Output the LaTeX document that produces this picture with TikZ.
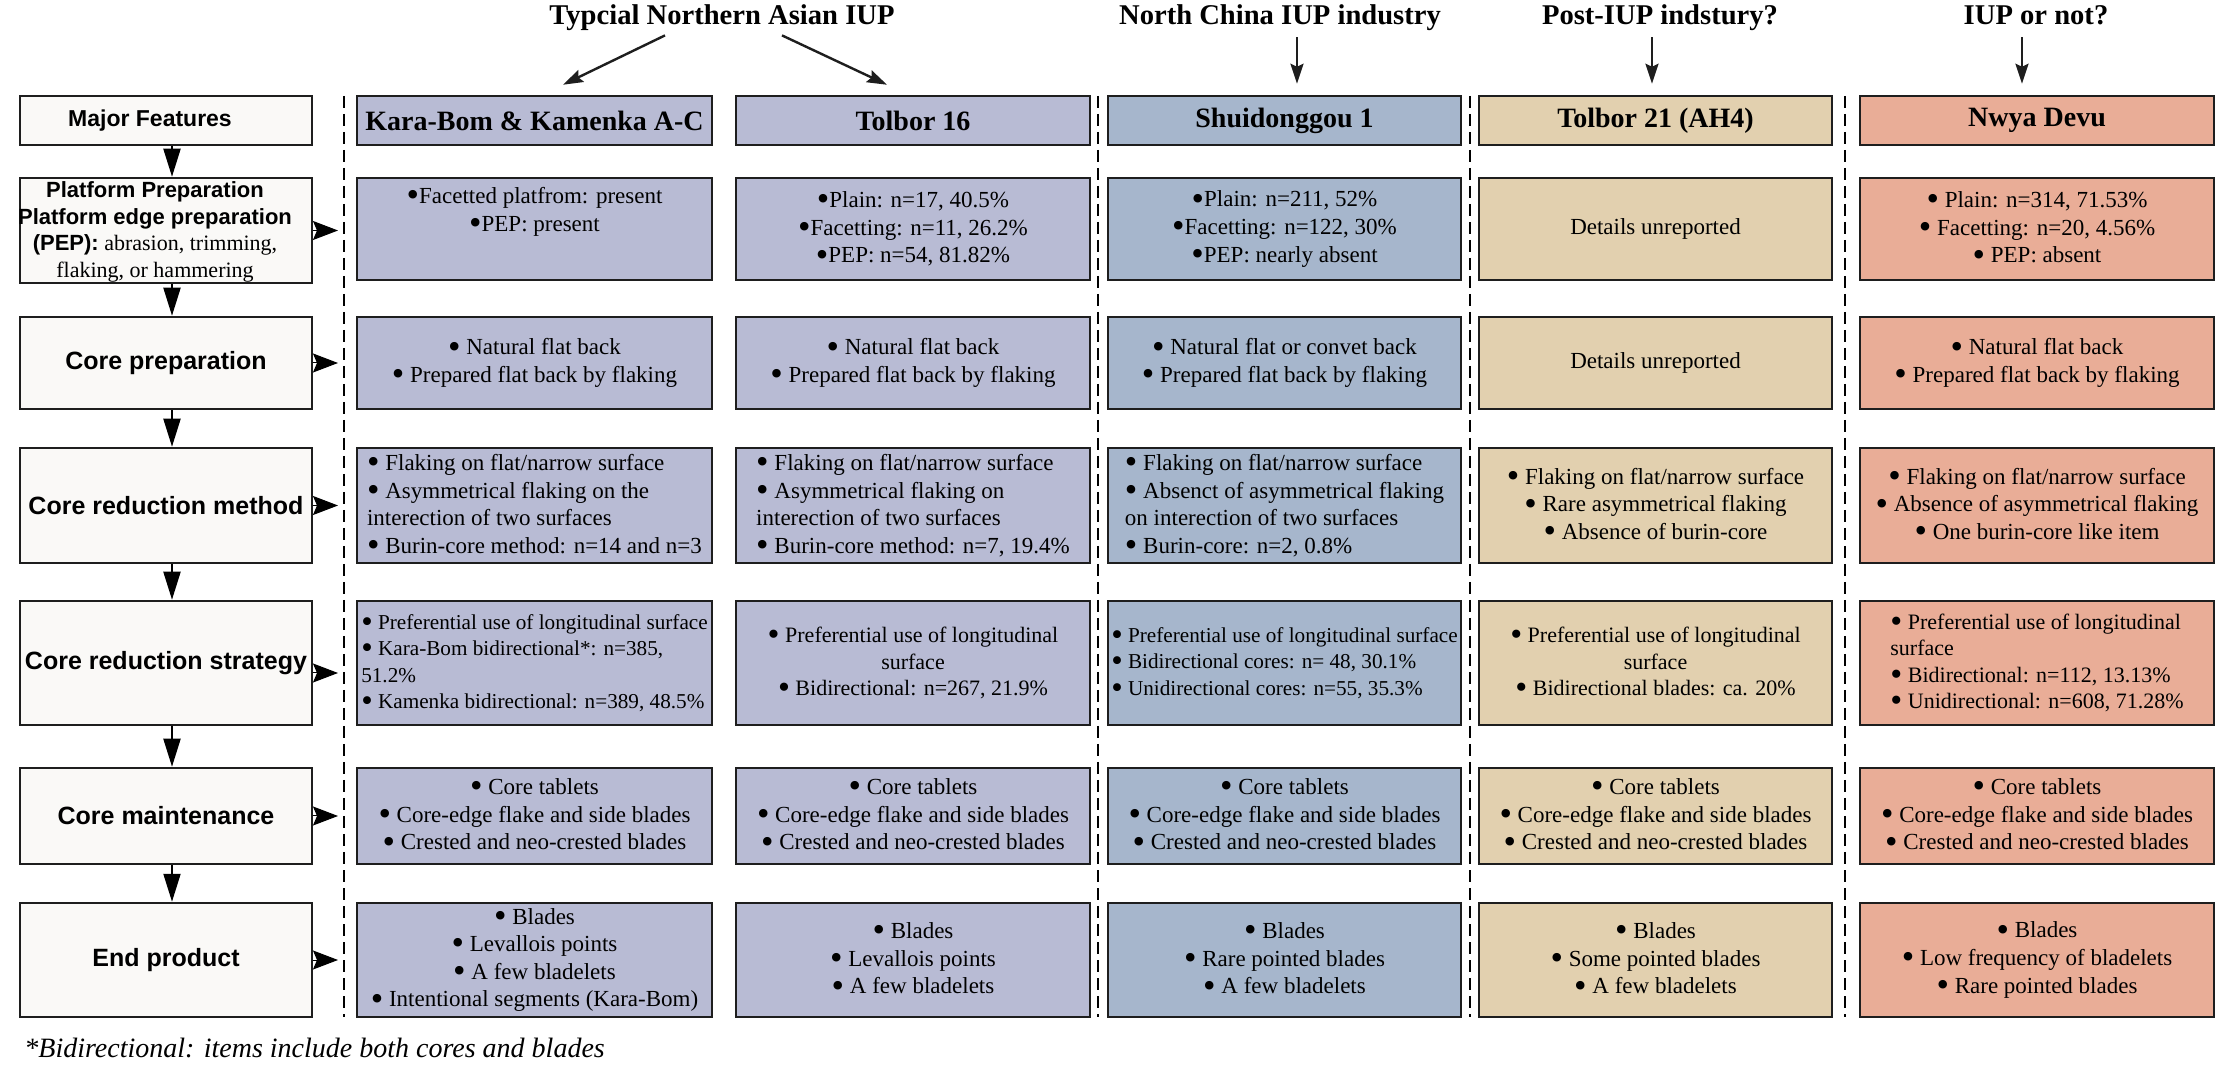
\documentclass[tikz,border=0pt]{standalone}
\usepackage{fontspec}
\setmainfont{Liberation Serif}
\setsansfont{Liberation Sans}
\usepackage{graphicx}
\usetikzlibrary{arrows.meta}
\definecolor{leftfill}{RGB}{250,249,247}
\definecolor{kbfill}{RGB}{184,187,212}
\definecolor{sdfill}{RGB}{166,182,204}
\definecolor{tafill}{RGB}{226,208,175}
\definecolor{nwfill}{RGB}{233,173,151}
\definecolor{edgec}{RGB}{30,30,30}
\newcommand\bul{\raisebox{-0.14em}{\scalebox{1.55}{\textbullet}}}
\newcommand\bp{\bul\ }
\newcommand\bodyfont{\fontsize{11.5pt}{13.8pt}\selectfont}
\newcommand\stratfont{\fontsize{11pt}{13.2pt}\selectfont}
\newcommand\tightfont{\fontsize{10.6pt}{13.2pt}\selectfont}
\newcommand\headfont{\fontsize{14pt}{16pt}\selectfont\bfseries}
\newcommand\titlefont{\fontsize{14.3pt}{16pt}\selectfont\bfseries}
\newcommand\leftfont{\fontsize{12.5pt}{15pt}\selectfont\sffamily\bfseries}
\tikzset{
  cell/.style={draw=edgec, line width=1.25pt, inner sep=0pt, align=center, font=\bodyfont},
  lcol/.style={cell, fill=leftfill, minimum width=146pt, font=\leftfont},
  kcol/.style={cell, fill=kbfill, minimum width=177.5pt},
  tcol/.style={cell, fill=kbfill, minimum width=177pt},
  scol/.style={cell, fill=sdfill, minimum width=176.5pt},
  acol/.style={cell, fill=tafill, minimum width=176.5pt},
  ncol/.style={cell, fill=nwfill, minimum width=177pt},
  hrow/.style={minimum height=24.5pt, font=\headfont},
  rowa/.style={minimum height=51pt},
  rowb/.style={minimum height=46pt},
  rowc/.style={minimum height=57.5pt},
  rowd/.style={minimum height=62pt, font=\stratfont},
  rowe/.style={minimum height=48pt},
  rowf/.style={minimum height=57pt},
  ttl/.style={font=\titlefont, inner sep=0pt, text depth=4pt},
  tarr/.style={draw=edgec, line width=1.2pt, -{Stealth[length=10pt, width=6.5pt, inset=1.5pt]}},
  darr/.style={draw=black, line width=1pt, -{Triangle[length=14pt, width=8.5pt]}},
  rarr/.style={draw=black, line width=0.5pt, -{Stealth[length=12.5pt, width=9.5pt, inset=2pt]}},
  sepline/.style={draw=black, line width=1pt, dash pattern=on 6pt off 3pt},
}
\begin{document}
\begin{tikzpicture}[x=0.5pt, y=-0.5pt]
\useasboundingbox (0,0) rectangle (2233,1068);
\fill[white] (0,0) rectangle (2233,1068);

% titles
\node[ttl, anchor=base] (t1) at (722,25) {Typcial Northern Asian IUP};
\node[ttl, anchor=base] (t2) at (1280,25) {North China IUP industry};
\node[ttl, anchor=base] (t3) at (1660,25) {Post-IUP indstury?};
\node[ttl, anchor=base] (t4) at (2036,25) {IUP or not?};

% separators
\draw[sepline] (344,96) -- (344,1017);
\draw[sepline] (1098,96) -- (1098,1017);
\draw[sepline] (1470,96) -- (1470,1017);
\draw[sepline] (1845,96) -- (1845,1017);

% header row
\node[lcol, minimum height=24.5pt] (lmf) at (166,120.5) {};
\node[inner sep=0pt, font=\fontsize{11.5pt}{14pt}\selectfont\sffamily\bfseries] (lmft) at (150,121) {Major Features};
\node[kcol,hrow] (kb0) at (534.5,120.5) {Kara-Bom \& Kamenka A-C};
\node[tcol,hrow] (tb0) at (913,120.5) {Tolbor 16};
\node[scol,hrow] (sd0) at (1284.5,120.5) {Shuidonggou 1};
\node[acol,hrow] (ta0) at (1655.5,120.5) {Tolbor 21 (AH4)};
\node[ncol,hrow] (nw0) at (2037,120.5) {\raisebox{2.5pt}{Nwya Devu}};

% row 1
\node[lcol, minimum height=52.5pt] (l1) at (166,230.5) {};
\node[inner sep=0pt, align=center, font=\fontsize{11pt}{13.4pt}\selectfont] (l1t) at (155,232)
  {{\sffamily\bfseries Platform Preparation}\\{\sffamily\bfseries Platform edge preparation}\\{\sffamily\bfseries (PEP):} abrasion, trimming,\\flaking, or hammering};
\node[kcol,rowa] (kb1) at (534.5,229) {\bul Facetted platfrom: present\\\bul PEP: present\\[6pt]};
\node[tcol,rowa] (tb1) at (913,229) {\bul Plain: n=17, 40.5\%\\\bul Facetting: n=11, 26.2\%\\\bul PEP: n=54, 81.82\%};
\node[scol,rowa] (sd1) at (1284.5,229) {\bul Plain: n=211, 52\%\\\bul Facetting: n=122, 30\%\\\bul PEP: nearly absent};
\node[acol,rowa] (ta1) at (1655.5,229) {Details unreported};
\node[ncol,rowa] (nw1) at (2037,229) {\bp Plain: n=314, 71.53\%\\\bp Facetting: n=20, 4.56\%\\\bp PEP: absent};

% row 2
\node[lcol,rowb] (l2) at (166,363) {Core preparation};
\node[kcol,rowb] (kb2) at (534.5,363) {\bp Natural flat back\\\bp Prepared flat back by flaking};
\node[tcol,rowb] (tb2) at (913,363) {\bp Natural flat back\\\bp Prepared flat back by flaking};
\node[scol,rowb] (sd2) at (1284.5,363) {\bp Natural flat or convet back\\\bp Prepared flat back by flaking};
\node[acol,rowb] (ta2) at (1655.5,363) {Details unreported};
\node[ncol,rowb] (nw2) at (2037,363) {\bp Natural flat back\\\bp Prepared flat back by flaking};

% row 3
\node[lcol,rowc] (l3) at (166,505.5) {Core reduction method};
\node[kcol,rowc,align=left] (kb3) at (534.5,505.5) {\bp Flaking on flat/narrow surface\\\bp Asymmetrical flaking on the\\interection of two surfaces\\\bp Burin-core method: n=14 and n=3};
\node[tcol,rowc,align=left] (tb3) at (913,505.5) {\bp Flaking on flat/narrow surface\\\bp Asymmetrical flaking on\\interection of two surfaces\\\bp Burin-core method: n=7, 19.4\%};
\node[scol,rowc,align=left] (sd3) at (1284.5,505.5) {\bp Flaking on flat/narrow surface\\\bp Absenct of asymmetrical flaking\\on interection of two surfaces\\\bp Burin-core: n=2, 0.8\%};
\node[acol,rowc] (ta3) at (1655.5,505.5) {\bp Flaking on flat/narrow surface\\\bp Rare asymmetrical flaking\\\bp Absence of burin-core};
\node[ncol,rowc] (nw3) at (2037,505.5) {\bp Flaking on flat/narrow surface\\\bp Absence of asymmetrical flaking\\\bp One burin-core like item};

% row 4
\node[lcol,minimum height=62pt] (l4) at (166,663) {Core reduction strategy};
\node[kcol,rowd,align=left,font=\tightfont] (kb4) at (534.5,663) {\bp Preferential use of longitudinal surface\\\bp Kara-Bom bidirectional*: n=385,\\51.2\%\\\bp Kamenka bidirectional: n=389, 48.5\%};
\node[tcol,rowd] (tb4) at (913,663) {\bp Preferential use of longitudinal\\surface\\\bp Bidirectional: n=267, 21.9\%};
\node[scol,rowd,align=left,font=\tightfont] (sd4) at (1284.5,663) {\bp Preferential use of longitudinal surface\\\bp Bidirectional cores: n= 48, 30.1\%\\\bp Unidirectional cores: n=55, 35.3\%};
\node[acol,rowd] (ta4) at (1655.5,663) {\bp Preferential use of longitudinal\\surface\\\bp Bidirectional blades: ca. 20\%};
\node[ncol,rowd,align=left] (nw4) at (2037,663) {\bp Preferential use of longitudinal\\surface\\\bp Bidirectional: n=112, 13.13\%\\\bp Unidirectional: n=608, 71.28\%};

% row 5
\node[lcol,rowe] (l5) at (166,816) {Core maintenance};
\node[kcol,rowe] (kb5) at (534.5,816) {\bp Core tablets\\\bp Core-edge flake and side blades\\\bp Crested and neo-crested blades};
\node[tcol,rowe] (tb5) at (913,816) {\bp Core tablets\\\bp Core-edge flake and side blades\\\bp Crested and neo-crested blades};
\node[scol,rowe] (sd5) at (1284.5,816) {\bp Core tablets\\\bp Core-edge flake and side blades\\\bp Crested and neo-crested blades};
\node[acol,rowe] (ta5) at (1655.5,816) {\bp Core tablets\\\bp Core-edge flake and side blades\\\bp Crested and neo-crested blades};
\node[ncol,rowe] (nw5) at (2037,816) {\bp Core tablets\\\bp Core-edge flake and side blades\\\bp Crested and neo-crested blades};

% row 6
\node[lcol,rowf] (l6) at (166,960) {End product};
\node[kcol,rowf] (kb6) at (534.5,960) {\bp Blades\\\bp Levallois points\\\bp A few bladelets\\\bp Intentional segments (Kara-Bom)};
\node[tcol,rowf] (tb6) at (913,960) {\bp Blades\\\bp Levallois points\\\bp A few bladelets};
\node[scol,rowf] (sd6) at (1284.5,960) {\bp Blades\\\bp Rare pointed blades\\\bp A few bladelets};
\node[acol,rowf] (ta6) at (1655.5,960) {\bp Blades\\\bp Some pointed blades\\\bp A few bladelets};
\node[ncol,rowf] (nw6) at (2037,960) {\bp Blades\\\bp Low frequency of bladelets\\\bp Rare pointed blades};

% footnote
\node[anchor=base west, inner sep=0pt, font=\fontsize{14pt}{16pt}\selectfont\itshape] (fn) at (24,1057) {*Bidirectional: items include both cores and blades};

% title arrows
\draw[tarr] ([xshift=-28.5pt,yshift=-1pt]t1.south) -- ([xshift=14.25pt,yshift=5pt]kb0.north);
\draw[tarr] ([xshift=30pt,yshift=-1pt]t1.south) -- ([xshift=-13pt,yshift=5pt]tb0.north);
\draw[tarr] ([xshift=8.5pt,yshift=-2pt]t2.south) -- ([xshift=8.5pt,yshift=5.5pt]t2.south |- sd0.north);
\draw[tarr] ([xshift=-4pt,yshift=-2pt]t3.south) -- ([xshift=-4pt,yshift=5.5pt]t3.south |- ta0.north);
\draw[tarr] ([xshift=-7pt,yshift=-2pt]t4.south) -- ([xshift=-7pt,yshift=5.5pt]t4.south |- nw0.north);

% down arrows
\foreach \a/\b in {lmf/l1, l1/l2, l2/l3, l3/l4, l4/l5, l5/l6}
  \draw[darr] ([xshift=3pt]\a.south) -- ([xshift=3pt]\b.north);

% right arrows
\foreach \a in {l1, l2, l3, l5, l6}
  \draw[rarr] (\a.east) -- (338,0 |- \a.east);
\draw[rarr] ([yshift=-5pt]l4.east) -- ([yshift=-5pt]338,0 |- l4.east);
\end{tikzpicture}
\end{document}
